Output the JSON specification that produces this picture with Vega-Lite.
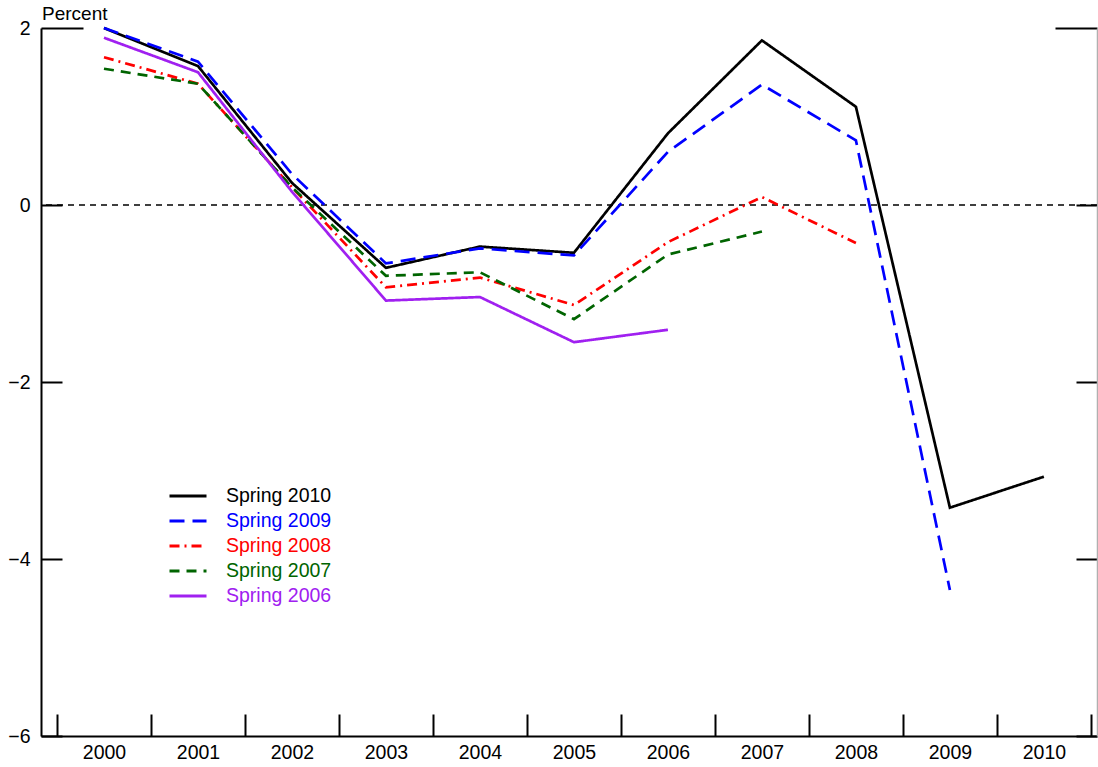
{
  "$schema": "https://vega.github.io/schema/vega-lite/v6.json",
  "width": 1056,
  "height": 708,
  "autosize": {"type": "none"},
  "padding": {"left": 41, "top": 28, "right": 1, "bottom": 31},
  "background": "white",
  "config": {
    "view": {"stroke": null},
    "font": "Liberation Sans",
    "axis": {"labelFont": "Liberation Sans", "labelFontSize": 19.5, "labelColor": "black", "domainColor": "black", "tickColor": "black", "domainWidth": 2, "tickWidth": 2, "grid": false, "title": null}
  },
  "title": {"text": "Percent", "anchor": "start", "frame": "group", "fontSize": 19, "fontWeight": "normal", "font": "Liberation Sans", "color": "black", "offset": 4, "dx": 1, "dy": 10},
  "datasets": {
    "lines": [
      {"series": "Spring 2010", "year": 2000, "value": 2.0},
      {"series": "Spring 2010", "year": 2001, "value": 1.57},
      {"series": "Spring 2010", "year": 2002, "value": 0.25},
      {"series": "Spring 2010", "year": 2003, "value": -0.71},
      {"series": "Spring 2010", "year": 2004, "value": -0.47},
      {"series": "Spring 2010", "year": 2005, "value": -0.54},
      {"series": "Spring 2010", "year": 2006, "value": 0.81},
      {"series": "Spring 2010", "year": 2007, "value": 1.86},
      {"series": "Spring 2010", "year": 2008, "value": 1.11},
      {"series": "Spring 2010", "year": 2009, "value": -3.42},
      {"series": "Spring 2010", "year": 2010, "value": -3.07},
      {"series": "Spring 2009", "year": 2000, "value": 2.0},
      {"series": "Spring 2009", "year": 2001, "value": 1.62},
      {"series": "Spring 2009", "year": 2002, "value": 0.35},
      {"series": "Spring 2009", "year": 2003, "value": -0.66},
      {"series": "Spring 2009", "year": 2004, "value": -0.49},
      {"series": "Spring 2009", "year": 2005, "value": -0.57},
      {"series": "Spring 2009", "year": 2006, "value": 0.6},
      {"series": "Spring 2009", "year": 2007, "value": 1.36},
      {"series": "Spring 2009", "year": 2008, "value": 0.73},
      {"series": "Spring 2009", "year": 2009, "value": -4.35},
      {"series": "Spring 2008", "year": 2000, "value": 1.67},
      {"series": "Spring 2008", "year": 2001, "value": 1.37},
      {"series": "Spring 2008", "year": 2002, "value": 0.2},
      {"series": "Spring 2008", "year": 2003, "value": -0.93},
      {"series": "Spring 2008", "year": 2004, "value": -0.82},
      {"series": "Spring 2008", "year": 2005, "value": -1.13},
      {"series": "Spring 2008", "year": 2006, "value": -0.42},
      {"series": "Spring 2008", "year": 2007, "value": 0.09},
      {"series": "Spring 2008", "year": 2008, "value": -0.43},
      {"series": "Spring 2007", "year": 2000, "value": 1.54},
      {"series": "Spring 2007", "year": 2001, "value": 1.37},
      {"series": "Spring 2007", "year": 2002, "value": 0.2},
      {"series": "Spring 2007", "year": 2003, "value": -0.8},
      {"series": "Spring 2007", "year": 2004, "value": -0.76},
      {"series": "Spring 2007", "year": 2005, "value": -1.29},
      {"series": "Spring 2007", "year": 2006, "value": -0.56},
      {"series": "Spring 2007", "year": 2007, "value": -0.3},
      {"series": "Spring 2006", "year": 2000, "value": 1.89},
      {"series": "Spring 2006", "year": 2001, "value": 1.5},
      {"series": "Spring 2006", "year": 2002, "value": 0.15},
      {"series": "Spring 2006", "year": 2003, "value": -1.08},
      {"series": "Spring 2006", "year": 2004, "value": -1.04},
      {"series": "Spring 2006", "year": 2005, "value": -1.55},
      {"series": "Spring 2006", "year": 2006, "value": -1.41}
    ],
    "zero": [{"z": 0}]
  },
  "layer": [
    {
      "data": {"name": "zero"},
      "mark": {"type": "rule", "color": "black", "strokeWidth": 1.5, "strokeDash": [6, 5]},
      "encoding": {
        "y": {"field": "z", "type": "quantitative", "scale": {"domain": [-6, 2], "nice": false, "zero": false},
          "axis": {"orient": "right", "values": [-6, -4, -2, 0, 2], "labels": false, "domainColor": "#b0b0b0", "domainWidth": 1.5,
            "tickSize": {"condition": {"test": "datum.value == 2", "value": -42}, "value": -21}}}
      }
    },
    {
      "data": {"name": "lines"},
      "mark": {"type": "line", "strokeWidth": 2.7, "clip": false},
      "encoding": {
        "x": {"field": "year", "type": "quantitative",
          "scale": {"domain": [1999.33, 2010.565], "nice": false, "zero": false},
          "axis": {"orient": "bottom", "values": [1999.5, 2000.5, 2001.5, 2002.5, 2003.5, 2004.5, 2005.5, 2006.5, 2007.5, 2008.5, 2009.5, 2010.5],
            "tickSize": -22, "labelOffset": 47, "labelPadding": 29, "labelFlush": false, "labelOverlap": false,
            "labelExpr": "datum.value > 2010 ? '' : format(datum.value + 0.5, 'd')"}},
        "y": {"field": "value", "type": "quantitative",
          "axis": {"orient": "left", "values": [-6, -4, -2, 0, 2],
            "labelPadding": {"condition": {"test": "datum.value == 2", "value": 53}, "value": 32},
            "tickSize": {"condition": {"test": "datum.value == 2", "value": -42}, "value": -21}}},
        "color": {"field": "series", "type": "nominal",
          "scale": {"domain": ["Spring 2010", "Spring 2009", "Spring 2008", "Spring 2007", "Spring 2006"],
            "range": ["#000000", "#0000ff", "#ff0000", "#006400", "#a020f0"]},
          "legend": {"title": null, "orient": "none", "legendX": 127, "legendY": 455.6,
            "symbolType": "stroke", "symbolSize": 1369, "symbolStrokeWidth": 3,
            "labelFont": "Liberation Sans", "labelFontSize": 19.5, "labelOffset": 18, "rowPadding": 0, "clipHeight": 24.7,
            "encode": {"labels": {"update": {"fill": {"scale": "color", "field": "value"}}}}}},
        "strokeDash": {"field": "series", "type": "nominal",
          "scale": {"domain": ["Spring 2010", "Spring 2009", "Spring 2008", "Spring 2007", "Spring 2006"],
            "range": [[1, 0], [15, 8], [10, 5, 2, 5], [10, 7], [1, 0]]},
          "legend": null}
      }
    }
  ],
  "resolve": {"axis": {"y": "independent"}}
}
